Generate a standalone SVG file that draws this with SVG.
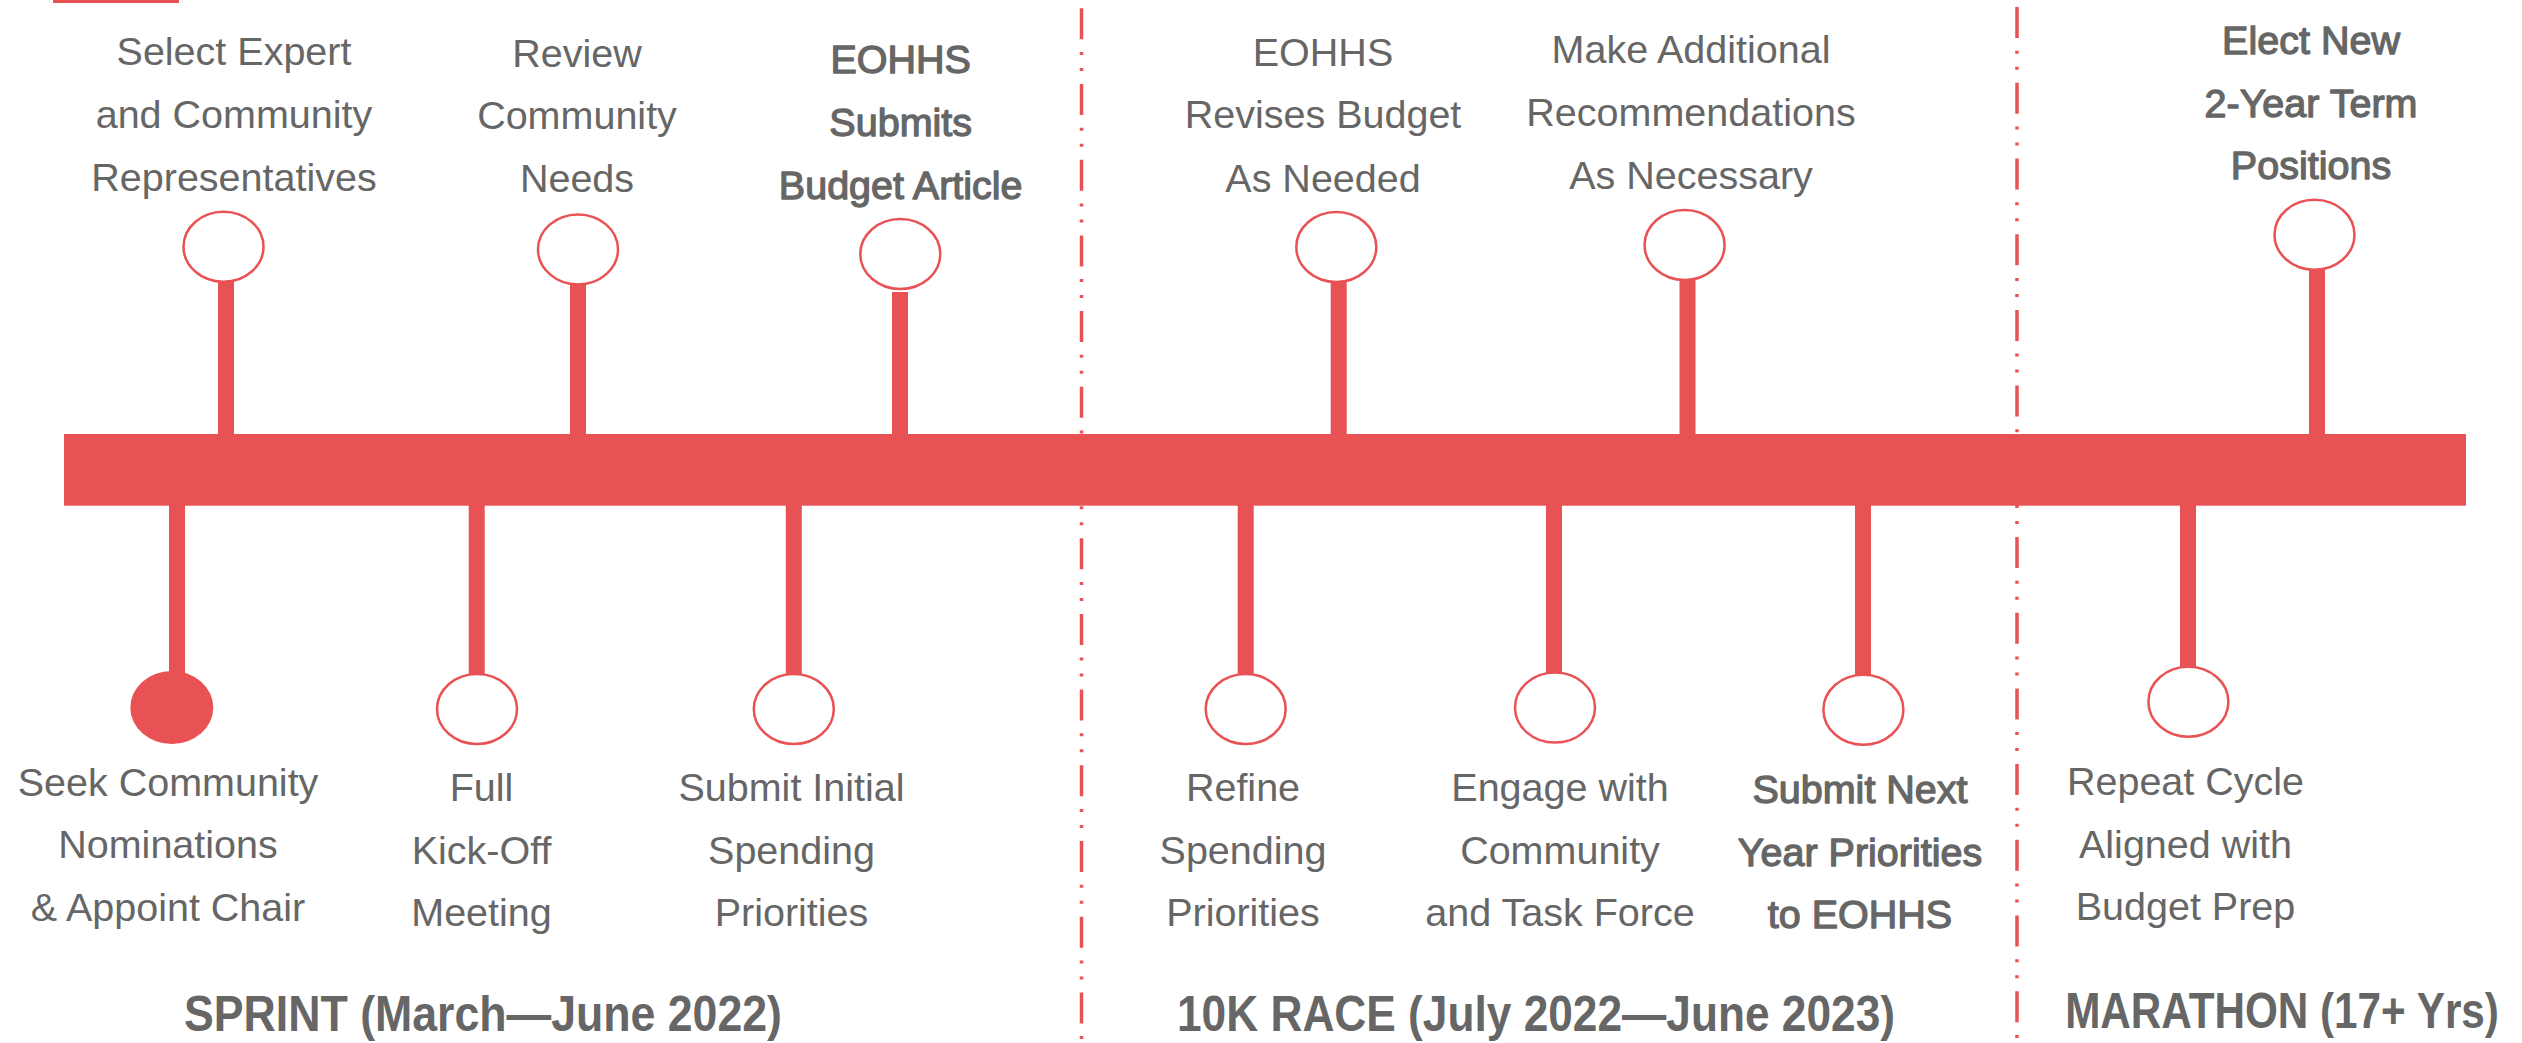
<svg xmlns="http://www.w3.org/2000/svg" width="2522" height="1043" viewBox="0 0 2522 1043">
  <style>
    .bg { fill: #ffffff; }
    .red { fill: #E95254; }
    .divider { stroke: #E95254; stroke-width: 3.5; stroke-dasharray: 31 12.7 3 13 3 13; fill: none; }
    .stem { fill: #E95254; }
    .ring { fill: #ffffff; stroke: #E95254; stroke-width: 2.5; }
    .dot { fill: #E95254; }
    .lbl { font-family: "Liberation Sans", Arial, sans-serif; font-size: 39.5px; fill: #666666; text-anchor: middle; }
    .lblb { font-family: "Liberation Sans", Arial, sans-serif; font-size: 39.5px; fill: #666666; stroke: #666666; stroke-width: 1.3; stroke-linejoin: round; text-anchor: middle; }
    .phase { font-family: "Liberation Sans", Arial, sans-serif; font-size: 50px; font-weight: bold; fill: #666666; text-anchor: middle; }
  </style>
  <rect class="bg" x="0" y="0" width="2522" height="1043"/>
  <rect id="corner-mark" class="red" x="53" y="0" width="126" height="3"/>

  <g id="dividers">
    <line class="divider" x1="1081.5" y1="8.3" x2="1081.5" y2="1043"/>
    <line class="divider" x1="2017" y1="7.1" x2="2017" y2="1043"/>
  </g>

  <g id="connectors">
    <rect class="stem" x="218" y="280" width="16" height="156"/>
    <rect class="stem" x="570" y="285" width="16" height="151"/>
    <rect class="stem" x="892" y="292" width="16" height="144"/>
    <rect class="stem" x="1330.7" y="280" width="16" height="156"/>
    <rect class="stem" x="1679.5" y="278" width="16" height="158"/>
    <rect class="stem" x="2309" y="268" width="16" height="168"/>
    <rect class="stem" x="169" y="503" width="16" height="172"/>
    <rect class="stem" x="468.7" y="503" width="16" height="174"/>
    <rect class="stem" x="785.8" y="503" width="16" height="174"/>
    <rect class="stem" x="1237.7" y="503" width="16" height="174"/>
    <rect class="stem" x="1546" y="503" width="16" height="172"/>
    <rect class="stem" x="1855" y="503" width="16" height="176"/>
    <rect class="stem" x="2180" y="503" width="16" height="168"/>
  </g>

  <g id="timeline">
    <rect class="red" x="64" y="434" width="2402" height="71.7"/>
  </g>

  <g id="ev-select-expert">
    <ellipse class="ring" cx="223.5" cy="246.7" rx="40" ry="35"/>
    <text class="lbl" x="234" y="64.5">Select Expert</text>
    <text class="lbl" x="234" y="127.7">and Community</text>
    <text class="lbl" x="234" y="190.7">Representatives</text>
  </g>
  <g id="ev-review-needs">
    <ellipse class="ring" cx="578" cy="249.4" rx="40" ry="35"/>
    <text class="lbl" x="577" y="67.3">Review</text>
    <text class="lbl" x="577" y="129.4">Community</text>
    <text class="lbl" x="577" y="192.4">Needs</text>
  </g>
  <g id="ev-eohhs-submits">
    <ellipse class="ring" cx="900.3" cy="254" rx="40" ry="35"/>
    <text class="lblb" x="900.7" y="73.3">EOHHS</text>
    <text class="lblb" x="900.7" y="136">Submits</text>
    <text class="lblb" x="900.7" y="199">Budget Article</text>
  </g>
  <g id="ev-eohhs-revises">
    <ellipse class="ring" cx="1336.3" cy="247" rx="40" ry="35"/>
    <text class="lbl" x="1323" y="65.7">EOHHS</text>
    <text class="lbl" x="1323" y="128.4">Revises Budget</text>
    <text class="lbl" x="1323" y="191.7">As Needed</text>
  </g>
  <g id="ev-additional-recs">
    <ellipse class="ring" cx="1684.6" cy="245" rx="40" ry="35"/>
    <text class="lbl" x="1691" y="63">Make Additional</text>
    <text class="lbl" x="1691" y="126">Recommendations</text>
    <text class="lbl" x="1691" y="189">As Necessary</text>
  </g>
  <g id="ev-elect-new">
    <ellipse class="ring" cx="2314.5" cy="234.7" rx="40" ry="35"/>
    <text class="lblb" x="2311" y="54.3">Elect New</text>
    <text class="lblb" x="2311" y="117.1">2-Year Term</text>
    <text class="lblb" x="2311" y="179.3">Positions</text>
  </g>

  <g id="ev-seek-nominations">
    <ellipse class="dot" cx="171.8" cy="707.5" rx="41.5" ry="36.5"/>
    <text class="lbl" x="168" y="795.7">Seek Community</text>
    <text class="lbl" x="168" y="858.3">Nominations</text>
    <text class="lbl" x="168" y="921">&amp; Appoint Chair</text>
  </g>
  <g id="ev-kickoff">
    <ellipse class="ring" cx="477" cy="709" rx="40" ry="35"/>
    <text class="lbl" x="481.5" y="800.6">Full</text>
    <text class="lbl" x="481.5" y="863.5">Kick-Off</text>
    <text class="lbl" x="481.5" y="926.3">Meeting</text>
  </g>
  <g id="ev-submit-initial">
    <ellipse class="ring" cx="793.8" cy="709" rx="40" ry="35"/>
    <text class="lbl" x="791.5" y="800.6">Submit Initial</text>
    <text class="lbl" x="791.5" y="863.5">Spending</text>
    <text class="lbl" x="791.5" y="926.3">Priorities</text>
  </g>
  <g id="ev-refine">
    <ellipse class="ring" cx="1245.7" cy="709" rx="40" ry="35"/>
    <text class="lbl" x="1243" y="800.6">Refine</text>
    <text class="lbl" x="1243" y="863.5">Spending</text>
    <text class="lbl" x="1243" y="926.3">Priorities</text>
  </g>
  <g id="ev-engage">
    <ellipse class="ring" cx="1555" cy="707.6" rx="40" ry="35"/>
    <text class="lbl" x="1560" y="800.6">Engage with</text>
    <text class="lbl" x="1560" y="863.5">Community</text>
    <text class="lbl" x="1560" y="926.3">and Task Force</text>
  </g>
  <g id="ev-submit-next">
    <ellipse class="ring" cx="1863.4" cy="709.7" rx="40" ry="35"/>
    <text class="lblb" x="1860" y="803.3">Submit Next</text>
    <text class="lblb" x="1860" y="866">Year Priorities</text>
    <text class="lblb" x="1860" y="928.3">to EOHHS</text>
  </g>
  <g id="ev-repeat">
    <ellipse class="ring" cx="2188.4" cy="701.8" rx="40" ry="35"/>
    <text class="lbl" x="2185.5" y="795.4">Repeat Cycle</text>
    <text class="lbl" x="2185.5" y="857.9">Aligned with</text>
    <text class="lbl" x="2185.5" y="920.4">Budget Prep</text>
  </g>

  <g id="phases">
    <text class="phase" transform="translate(483,1031) scale(0.893,1)">SPRINT (March—June 2022)</text>
    <text class="phase" transform="translate(1536,1031) scale(0.885,1)">10K RACE (July 2022—June 2023)</text>
    <text class="phase" transform="translate(2282,1028) scale(0.845,1)">MARATHON (17+ Yrs)</text>
  </g>
</svg>
